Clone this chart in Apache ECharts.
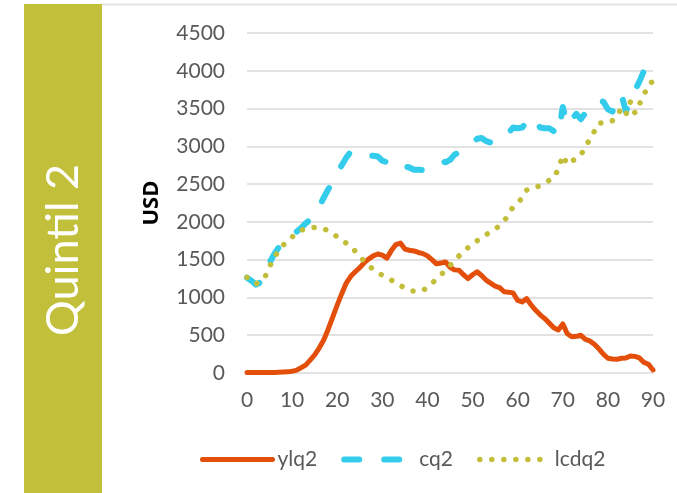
<!DOCTYPE html>
<html>
<head>
<meta charset="utf-8">
<script src="https://cdn.jsdelivr.net/npm/echarts@6/dist/echarts.min.js"></script>
<style>
html,body{margin:0;padding:0;background:#fff;}
#chart{width:677px;height:493px;}
</style>
</head>
<body>
<div id="chart"></div>
<script>
// Age categories 0..90
const ages = [0,1,2,3,4,5,6,7,8,9,10,11,12,13,14,15,16,17,18,19,20,21,22,23,24,25,26,27,28,29,30,31,32,33,34,35,36,37,38,39,40,41,42,43,44,45,46,47,48,49,50,51,52,53,54,55,56,57,58,59,60,61,62,63,64,65,66,67,68,69,70,71,72,73,74,75,76,77,78,79,80,81,82,83,84,85,86,87,88,89,90];

const ylq2 = [5,5,5,5,6,7,8,10,12,15,22,38,70,105,170,240,330,437,580,740,900,1050,1190,1280,1340,1395,1460,1510,1550,1575,1560,1520,1620,1700,1720,1640,1625,1615,1595,1580,1550,1500,1445,1455,1470,1400,1365,1360,1300,1250,1300,1340,1290,1230,1190,1150,1130,1075,1070,1060,960,940,985,900,830,770,720,660,600,570,650,520,480,485,500,445,425,380,320,250,195,185,181,195,200,225,220,200,140,115,40];

const cq2 = [1261,1220,1170,1200,1330,1460,1570,1660,1720,1780,1830,1870,1920,1980,2030,2080,2200,2320,2430,2530,2640,2750,2850,2930,2940,2910,2890,2880,2875,2865,2810,2790,2830,2810,2760,2735,2720,2690,2690,2685,2700,2740,2780,2800,2790,2820,2890,2920,2960,3000,3040,3100,3110,3070,3050,3060,3080,3110,3180,3250,3240,3250,3320,3390,3320,3250,3240,3240,3200,3150,3520,3280,3360,3430,3360,3440,3500,3560,3610,3590,3490,3460,3600,3690,3460,3640,3740,3860,4000,4040,3910];

const lcdq2 = [1266,1220,1180,1220,1270,1410,1520,1620,1690,1750,1800,1850,1890,1910,1925,1925,1920,1912,1880,1850,1800,1755,1720,1680,1610,1540,1480,1420,1370,1325,1295,1265,1230,1195,1160,1120,1090,1085,1085,1090,1140,1185,1245,1300,1360,1420,1490,1550,1610,1660,1710,1750,1790,1830,1870,1905,1950,2010,2100,2200,2260,2310,2420,2450,2460,2480,2510,2550,2580,2700,2880,2760,2810,2830,2880,3000,3090,3200,3310,3310,3310,3340,3400,3500,3420,3590,3440,3560,3680,3820,3860];

const seriesNames = ['ylq2','cq2','lcdq2'];
const xTicks = {min: 0, max: 90, interval: 10};
const yTicks = {min: 0, max: 4500, interval: 500};
const panelTitle = 'Quintil 2';
const yTitle = 'USD';

const colors = ['#E34F0B', '#33CCEB', '#C3BE3A'];
const lineStyles = [
  {color: colors[0], width: 5, type: 'solid', cap: 'round', join: 'round'},
  {color: colors[1], width: 6, type: [15, 25], cap: 'round', join: 'round'},
  {color: colors[2], width: 5.5, type: [0.01, 12], cap: 'round', join: 'round'}
];

function pairs(vals){ return ages.map((a,i)=>[a, vals[i]]); }

const FONT = 'Lato, "Open Sans", sans-serif';
const chart = echarts.init(document.getElementById('chart'), null, {renderer:'canvas'});
chart.setOption({
  backgroundColor: '#ffffff',
  animation: false,
  grid: {left: 247, right: 24, top: 33, bottom: 120, containLabel: false},
  xAxis: {
    type: 'value', min: xTicks.min, max: xTicks.max, interval: xTicks.interval,
    axisLine: {show: false}, axisTick: {show: false}, splitLine: {show: false},
    axisLabel: {color: '#595959', fontSize: 21, fontFamily: FONT, margin: 17, formatter: v => String(v)}
  },
  yAxis: {
    type: 'value', min: yTicks.min, max: yTicks.max, interval: yTicks.interval,
    axisLine: {show: false}, axisTick: {show: false},
    splitLine: {lineStyle: {color: '#d9d9d9', width: 1.5}},
    axisLabel: {color: '#595959', fontSize: 21, fontFamily: FONT, margin: 22, formatter: v => String(v)}
  },
  legend: {
    left: 195, top: 444, itemWidth: 70, itemHeight: 14, itemGap: 24,
    textStyle: {color: '#595959', fontSize: 21, fontFamily: FONT},
    data: seriesNames.map((n, i) => ({
      name: n,
      itemStyle: {opacity: 0},
      lineStyle: Object.assign({}, lineStyles[i])
    }))
  },
  graphic: [
    {type: 'rect', left: 24, top: 4, shape: {width: 78, height: 489}, style: {fill: '#C2BF3A'}, silent: true},
    {type: 'line', shape: {x1: 102, y1: 4.5, x2: 677, y2: 4.5}, style: {stroke: '#e3e3e3', lineWidth: 2}, silent: true},
    {type: 'text', x: 63, y: 250, rotation: Math.PI/2,
     style: {text: panelTitle, fill: '#ffffff', font: 'normal 45px Lato, "Open Sans", sans-serif', align: 'center', verticalAlign: 'middle'}},
    {type: 'text', x: 152, y: 203, rotation: Math.PI/2,
     style: {text: yTitle, fill: '#000000', font: 'bold 22px "Open Sans", Lato, sans-serif', align: 'center', verticalAlign: 'middle'}}
  ],
  series: seriesNames.map((n, i) => ({
    name: n, type: 'line', data: pairs([ylq2, cq2, lcdq2][i]), symbol: 'none', showSymbol: false,
    lineStyle: lineStyles[i], itemStyle: {color: colors[i]}
  }))
});
</script>
</body>
</html>
